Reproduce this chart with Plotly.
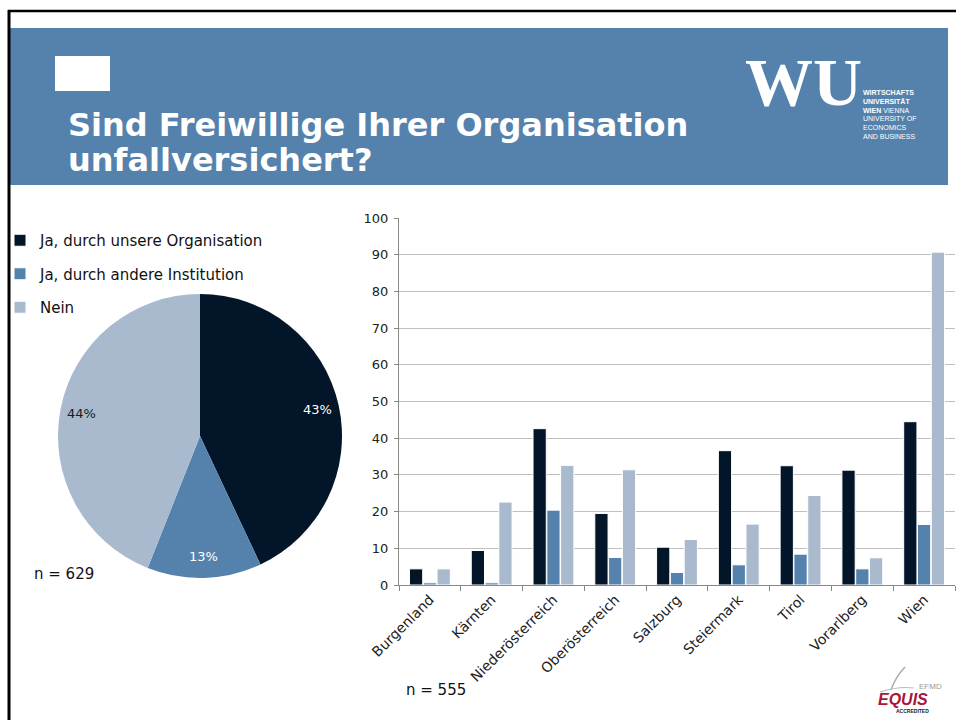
import numpy as np
import plotly.graph_objects as go

W, H = 956, 720
def px(x): return x / W
def py(y): return 1 - y / H

# ---------------- data ----------------
categories = ["Burgenland", "Kärnten", "Niederösterreich", "Oberösterreich",
              "Salzburg", "Steiermark", "Tirol", "Vorarlberg", "Wien"]
series_names = ["Ja, durch unsere Organisation", "Ja, durch andere Institution", "Nein"]
ja_organisation = [4.4, 9.4, 42.6, 19.5, 10.3, 36.6, 32.5, 31.3, 44.5]
ja_andere = [0.6, 0.6, 20.4, 7.5, 3.4, 5.5, 8.4, 4.4, 16.5]
nein = [4.4, 22.6, 32.6, 31.4, 12.4, 16.6, 24.4, 7.4, 90.7]
pie_values = [43, 13, 44]
y_ticks = [0, 10, 20, 30, 40, 50, 60, 70, 80, 90, 100]
n_pie = "n = 629"
n_bar = "n = 555"
title_lines = ["Sind Freiwillige Ihrer Organisation", "unfallversichert?"]

colors = ["#021529", "#5582AC", "#A9BACE"]
label_colors = ["white", "white", "#1a1a1a"]
FONT = "DejaVu Sans"

# pie geometry (pixels)
PIE_CX, PIE_CY, PIE_R = 200, 436, 142

fig = go.Figure()

# ---------------- pie ----------------
fig.add_trace(go.Pie(
    labels=series_names, values=pie_values, sort=False, direction="clockwise",
    rotation=0, marker=dict(colors=colors, line=dict(width=0)),
    textinfo="none",
    domain=dict(x=[px(PIE_CX - PIE_R), px(PIE_CX + PIE_R)],
                y=[py(PIE_CY + PIE_R), py(PIE_CY - PIE_R)]),
    showlegend=False, hoverinfo="label+percent",
))

# ---------------- bars ----------------
for name, vals, col in zip(series_names, [ja_organisation, ja_andere, nein], colors):
    fig.add_trace(go.Bar(
        x=categories, y=vals, name=name, legendgroup=name,
        marker=dict(color=col, line=dict(color="white", width=1)),
    ))

fig.update_layout(
    width=W, height=H,
    margin=dict(l=0, r=0, t=0, b=0, autoexpand=False),
    paper_bgcolor="white", plot_bgcolor="white",
    barmode="group", bargap=0.33, bargroupgap=0.04,
    font=dict(family=FONT, size=12, color="#222"),
    legend=dict(x=0, y=py(224), xanchor="left", yanchor="top",
                font=dict(size=15, family=FONT, color="#111"),
                tracegroupgap=11, bgcolor="rgba(0,0,0,0)", traceorder="grouped"),
    xaxis=dict(domain=[px(399), px(955)], showline=True, linecolor="#888",
               linewidth=1, ticks="outside", ticklen=5, tickcolor="#888",
               tickson="boundaries", tickangle=-45,
               tickfont=dict(size=14, family=FONT, color="#222"), showgrid=False),
    yaxis=dict(domain=[py(585), py(218)], range=[0, 100], tickvals=y_ticks,
               showline=True, linecolor="#888", linewidth=1, ticks="outside",
               ticklen=4, tickcolor="#888", gridcolor="#BFBFBF", gridwidth=1,
               ticklabelstandoff=3,
               tickfont=dict(size=13, family=FONT, color="#222"), zeroline=False),
)

shapes = []
# header band
shapes.append(dict(type="rect", xref="paper", yref="paper", x0=px(10), x1=px(948),
                   y0=py(185), y1=py(28), fillcolor="#5582AC", line=dict(width=0),
                   layer="below"))
# slide border
shapes.append(dict(type="line", xref="paper", yref="paper", x0=px(8), x1=px(956),
                   y0=py(11), y1=py(11), line=dict(color="black", width=2.5)))
shapes.append(dict(type="line", xref="paper", yref="paper", x0=px(9), x1=px(9),
                   y0=py(10), y1=py(720), line=dict(color="black", width=3)))
# small white icon
shapes.append(dict(type="rect", xref="paper", yref="paper", x0=px(55), x1=px(110),
                   y0=py(91), y1=py(56), fillcolor="white", line=dict(width=0)))
# EQUIS swoosh
shapes.append(dict(type="path", xref="paper", yref="paper",
                   path=f"M {px(891)},{py(690)} Q {px(896)},{py(676)} {px(905)},{py(667)}",
                   line=dict(color="#AAAAAA", width=1.5)))
shapes.append(dict(type="path", xref="paper", yref="paper",
                   path=f"M {px(880)},{py(692)} Q {px(898)},{py(686)} {px(914)},{py(688)}",
                   line=dict(color="#BBBBBB", width=1.2)))
fig.update_layout(shapes=shapes)

ann = []
# pie percentage labels, placed along each slice's bisector (derived from the values)
vals = np.array(pie_values, dtype=float)
fracs = vals / vals.sum()
mids = np.cumsum(fracs) - fracs / 2
for frac, mid, col in zip(fracs, mids, label_colors):
    ang = 2 * np.pi * mid
    lx = PIE_CX + 0.85 * PIE_R * np.sin(ang)
    ly = PIE_CY - 0.85 * PIE_R * np.cos(ang)
    ann.append(dict(text=f"{round(frac * 100)}%", x=px(lx), y=py(ly), xref="paper",
                    yref="paper", xanchor="center", yanchor="middle", showarrow=False,
                    font=dict(size=13, color=col, family=FONT)))

ann.append(dict(text="<b>" + title_lines[0] + "</b>", x=px(66), y=py(125), xref="paper",
                yref="paper", xanchor="left", yanchor="middle", showarrow=False,
                font=dict(size=32, color="white", family=FONT)))
ann.append(dict(text="<b>" + title_lines[1] + "</b>", x=px(66), y=py(160), xref="paper",
                yref="paper", xanchor="left", yanchor="middle", showarrow=False,
                font=dict(size=32, color="white", family=FONT)))
# WU logo
ann.append(dict(text="<b>WU</b>", x=px(803), y=py(82), xref="paper", yref="paper",
                xanchor="center", yanchor="middle", showarrow=False,
                font=dict(size=68, color="white", family="Liberation Serif")))
wu_lines = ["<b>WIRTSCHAFTS</b>", "<b>UNIVERSITÄT</b>", "<b>WIEN</b> VIENNA",
            "UNIVERSITY OF", "ECONOMICS", "AND BUSINESS"]
for i, t in enumerate(wu_lines):
    ann.append(dict(text=t, x=px(861), y=py(93 + 8.6 * i), xref="paper", yref="paper",
                    xanchor="left", yanchor="middle", showarrow=False,
                    font=dict(size=7, color="white", family="Liberation Sans")))
ann.append(dict(text=n_pie, x=px(32), y=py(574), xref="paper", yref="paper",
                xanchor="left", yanchor="middle", showarrow=False,
                font=dict(size=15, color="#111", family=FONT)))
ann.append(dict(text=n_bar, x=px(404), y=py(690), xref="paper", yref="paper",
                xanchor="left", yanchor="middle", showarrow=False,
                font=dict(size=15, color="#111", family=FONT)))
# EQUIS logo text
ann.append(dict(text="EFMD", x=px(917), y=py(686), xref="paper", yref="paper",
                xanchor="left", yanchor="middle", showarrow=False,
                font=dict(size=8, color="#999999", family="Liberation Sans")))
ann.append(dict(text="<b><i>EQUIS</i></b>", x=px(903), y=py(699), xref="paper", yref="paper",
                xanchor="center", yanchor="middle", showarrow=False,
                font=dict(size=16, color="#A8163A", family="Liberation Sans")))
ann.append(dict(text="<b>ACCREDITED</b>", x=px(912), y=py(711), xref="paper", yref="paper",
                xanchor="center", yanchor="middle", showarrow=False,
                font=dict(size=5, color="#222", family="Liberation Sans")))
fig.update_layout(annotations=ann)

fig.write_html("out.html")
